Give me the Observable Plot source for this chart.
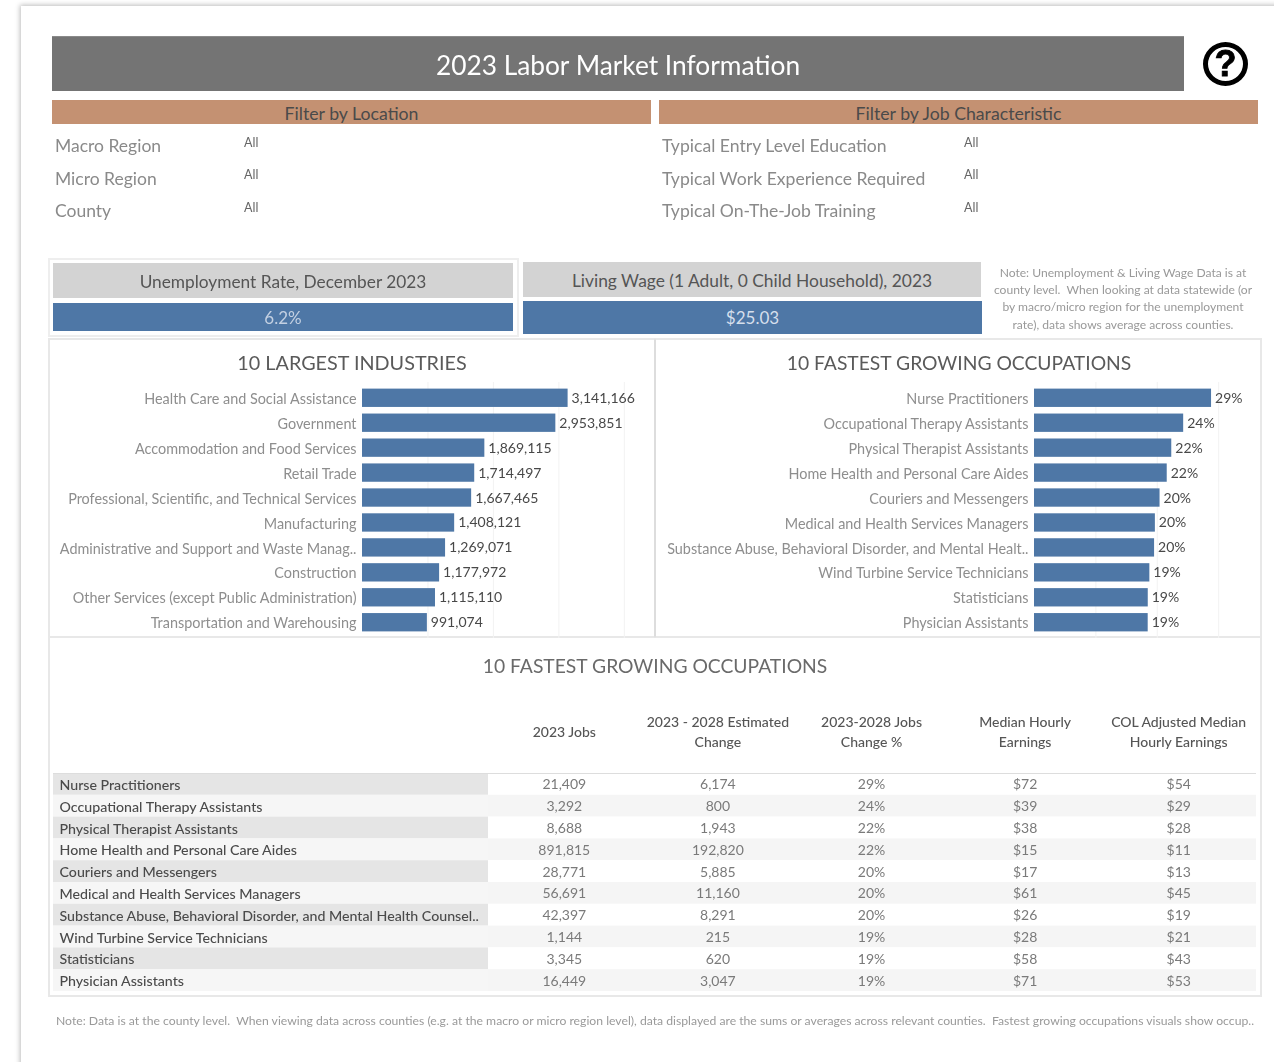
<!DOCTYPE html>
<html>
<head>
<meta charset="utf-8">
<script src="https://cdn.jsdelivr.net/npm/d3@7"></script>
<script src="https://cdn.jsdelivr.net/npm/@observablehq/plot@0.6"></script>
<style>
html,body{margin:0;padding:0;background:#fff;overflow:hidden}
#page{position:relative;width:1274px;height:1062px;overflow:hidden;font-family:Lato,sans-serif;filter:blur(0.4px)}
.abs{position:absolute;box-sizing:border-box}
.c{display:flex;align-items:center;justify-content:center;text-align:center}
.t{position:absolute;white-space:nowrap;line-height:1;transform:translateY(-50%)}
svg{background:transparent}
</style>
</head>
<body>
<div id="page"></div>
<script>
const industries = ["Health Care and Social Assistance","Government","Accommodation and Food Services","Retail Trade","Professional, Scientific, and Technical Services","Manufacturing","Administrative and Support and Waste Manag..","Construction","Other Services (except Public Administration)","Transportation and Warehousing"];
const industryJobs = [3141166,2953851,1869115,1714497,1667465,1408121,1269071,1177972,1115110,991074];
const chartOccupations = ["Nurse Practitioners","Occupational Therapy Assistants","Physical Therapist Assistants","Home Health and Personal Care Aides","Couriers and Messengers","Medical and Health Services Managers","Substance Abuse, Behavioral Disorder, and Mental Healt..","Wind Turbine Service Technicians","Statisticians","Physician Assistants"];
const tableOccupations = ["Nurse Practitioners","Occupational Therapy Assistants","Physical Therapist Assistants","Home Health and Personal Care Aides","Couriers and Messengers","Medical and Health Services Managers","Substance Abuse, Behavioral Disorder, and Mental Health Counsel..","Wind Turbine Service Technicians","Statisticians","Physician Assistants"];
const jobs2023 = [21409,3292,8688,891815,28771,56691,42397,1144,3345,16449];
const jobsChange = [6174,800,1943,192820,5885,11160,8291,215,620,3047];
const growthPct = [0.2884,0.243,0.2236,0.2162,0.2045,0.1969,0.1956,0.1879,0.1853,0.1852];
const medianEarn = [72,39,38,15,17,61,26,28,58,71];
const colEarn = [54,29,28,11,13,45,19,21,43,53];
const tableColumns = ["2023 Jobs","2023 - 2028 Estimated\nChange","2023-2028 Jobs\nChange %","Median Hourly\nEarnings","COL Adjusted Median\nHourly Earnings"];
const locationFilters = ["Macro Region","Micro Region","County"];
const jobFilters = ["Typical Entry Level Education","Typical Work Experience Required","Typical On-The-Job Training"];
const noteLines = ["Note: Unemployment & Living Wage Data is at","county level.  When looking at data statewide (or","by macro/micro region for the unemployment","rate), data shows average across counties."];

const FONT = "Lato, sans-serif";
const BLUE = "#4e77a6";
const page = document.getElementById("page");

function box(l,t,w,h,css,label){
  const d=document.createElement("div");d.className=label!=null?"abs c":"abs";
  d.style.cssText=`left:${l}px;top:${t}px;width:${w}px;height:${h}px;${css||""}`;
  if(label!=null)d.textContent=label;page.appendChild(d);return d;
}
function text(x,y,s,css,center){
  const d=document.createElement("div");d.className="t";
  d.style.cssText=`left:${x}px;top:${y}px;${css||""}`;
  if(center)d.style.transform="translate(-50%,-50%)";
  d.textContent=s;page.appendChild(d);return d;
}
function place(plot,l,t){plot.style.position="absolute";plot.style.left=l+"px";plot.style.top=t+"px";plot.style.maxWidth="none";page.appendChild(plot);}

// page sheet
box(21,6,1300,1100,"background:#fff;box-shadow:0 0 5px 1px #bbb");

// header
box(52,36,1132,55,"background:#747474;color:#fff;font-size:26.3px;padding-top:2px;border-top:1px solid #8a8a8a","2023 Labor Market Information");
box(1203,42,45,44,"border:5.5px solid #000;border-radius:50%;color:#000;font:bold 36px 'Liberation Sans',sans-serif;-webkit-text-stroke:0.8px #000","?");

box(52,100,599,24,"background:#c49172;color:#4a4a4a;font-size:17.7px;padding-top:2px","Filter by Location");
box(659,100,599,24,"background:#c49172;color:#4a4a4a;font-size:17.7px;padding-top:2px","Filter by Job Characteristic");

[146,179,211].forEach((y,i)=>{
  text(55,y,locationFilters[i],"font-size:17.5px;color:#8a8a8a");
  text(662,y,jobFilters[i],"font-size:17.6px;color:#8a8a8a");
});
[143,175,208].forEach(y=>{
  text(244,y,"All","font-size:12.5px;color:#666");
  text(964,y,"All","font-size:12.5px;color:#666");
});

// KPI tiles
box(48,258,471,79,"border:2px solid #eee");
box(53,263,460,35,"background:#d3d3d3;color:#555;font-size:17.3px;padding-top:2px","Unemployment Rate, December 2023");
box(53,303,460,28,`background:${BLUE};color:#c3d0e2;font-size:17px`,"6.2%");
box(523,262,458,35,"background:#d3d3d3;color:#555;font-size:17.4px;padding-top:2px","Living Wage (1 Adult, 0 Child Household), 2023");
box(523,301,459,33,`background:${BLUE};color:#d5dfec;font-size:17px`,"$25.03");
[273,290,307,325].forEach((y,i)=>{
  text(1123,y,noteLines[i],"font-size:12.1px;color:#999;white-space:pre",true);
});

// panels
box(48,338,607,300,"border:2px solid #e8e8e8;border-right:1px solid #ddd");
box(655,338,607,300,"border:2px solid #e8e8e8;border-left:1px solid #ddd");
box(48,638,1214,359,"border:2px solid #e8e8e8;border-top:0");
text(352,363,"10 LARGEST INDUSTRIES","font-size:19.8px;color:#5a5a5a",true);
text(959,363,"10 FASTEST GROWING OCCUPATIONS","font-size:19.3px;color:#5a5a5a",true);
text(655,666,"10 FASTEST GROWING OCCUPATIONS","font-size:19.3px;color:#6a6a6a",true);

function barChart(names,values,fmt,domainMax,ticks,marginLeft,plotWidth,marginRight){
  return Plot.plot({
    width:plotWidth,height:300,marginTop:44,marginBottom:0,marginLeft,marginRight,
    style:{fontFamily:FONT,fontSize:"14.4px",background:"transparent"},
    x:{domain:[0,domainMax],axis:null},
    y:{domain:names,padding:0.265,round:false,label:null},
    marks:[
      Plot.gridX({ticks,stroke:"#f2f2f2",strokeOpacity:1}),
      Plot.barX(values,{y:(d,i)=>names[i],x:d=>d,fill:BLUE}),
      Plot.text(values,{y:(d,i)=>names[i],x:d=>d,text:d=>fmt(d),textAnchor:"start",dx:3.5,fill:"#484848",fontSize:14}),
      Plot.axisY({tickSize:0,tickPadding:6,fill:"#8e8e8e",dy:1,textOverflow:null,lineWidth:Infinity,label:null})
    ]
  });
}
place(barChart(industries,industryJobs,d3.format(","),4.4e6,[1e6,2e6,3e6,4e6],314,607,5),48,338);
place(barChart(chartOccupations,growthPct,d3.format(".0%"),0.36,[0.1,0.2,0.3],379,607,7),655,338);

// table: name column
const rowH=218, head=73, fmtN=d3.format(",");
const rowY={domain:tableOccupations,padding:0,round:false,axis:null};
place(Plot.plot({
  width:435,height:head+rowH,marginTop:head,marginBottom:0,marginLeft:0,marginRight:0,
  style:{fontFamily:FONT,fontSize:"14px",background:"transparent"},
  x:{axis:null},y:rowY,color:{type:"identity"},
  marks:[
    Plot.cell(tableOccupations,{y:d=>d,fill:(d,i)=>i%2?"#f6f6f6":"#e5e5e5"}),
    Plot.text(tableOccupations,{y:d=>d,text:d=>d,frameAnchor:"left",dx:6,fill:"#4a4a4a",fontWeight:500,fontSize:14.2,dy:1}),
    Plot.frame({anchor:"top",stroke:"#ddd"}),
    Plot.frame({anchor:"bottom",stroke:"#ccc"})
  ]
}),53,700);

// table: value columns
const colText=(col,arr,fmt)=>Plot.text(tableOccupations,{x:()=>col,y:d=>d,text:(d,i)=>fmt(arr[i]),fill:"#7a7a7a",fontSize:14,dx:-1,dy:0.5});
const usd=v=>"$"+v;
place(Plot.plot({
  width:768,height:head+rowH,marginTop:head,marginBottom:0,marginLeft:0,marginRight:0,
  style:{fontFamily:FONT,fontSize:"14px",background:"transparent"},
  x:{type:"band",domain:tableColumns,padding:0,round:false,axis:null},y:rowY,color:{type:"identity"},
  marks:[
    Plot.cell(tableOccupations,{y:d=>d,fill:(d,i)=>i%2?"#f5f5f5":"#ffffff"}),
    colText(tableColumns[0],jobs2023,fmtN),
    colText(tableColumns[1],jobsChange,fmtN),
    colText(tableColumns[2],growthPct,d3.format(".0%")),
    colText(tableColumns[3],medianEarn,usd),
    colText(tableColumns[4],colEarn,usd),
    Plot.axisX({anchor:"top",tickSize:0,tickPadding:43,lineAnchor:"middle",lineHeight:1.43,fill:"#555",fontWeight:500,dx:-1,label:null,textOverflow:null,lineWidth:Infinity}),
    Plot.frame({anchor:"top",stroke:"#ddd"}),
    Plot.frame({anchor:"bottom",stroke:"#ccc"})
  ]
}),488,700);

text(56,1021,"Note: Data is at the county level.  When viewing data across counties (e.g. at the macro or micro region level), data displayed are the sums or averages across relevant counties.  Fastest growing occupations visuals show occup..","font-size:12.2px;color:#9a9a9a;white-space:pre");
</script>
</body>
</html>
